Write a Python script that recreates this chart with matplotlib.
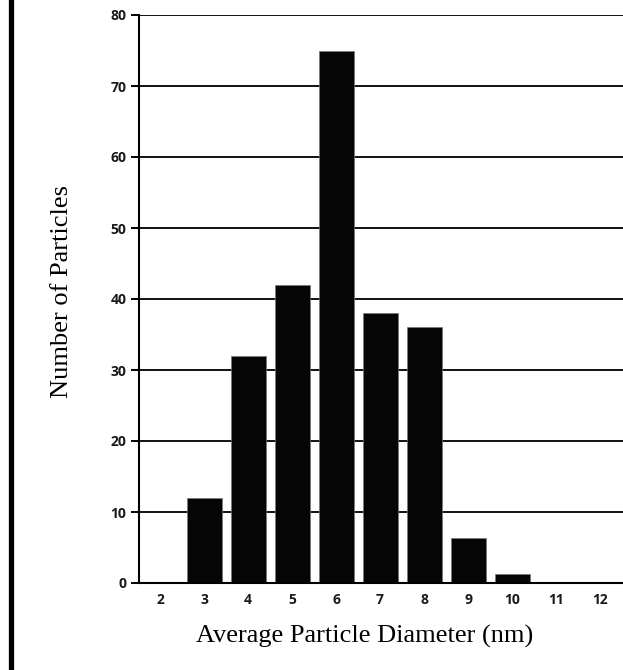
import matplotlib
matplotlib.use("Agg")
import matplotlib.pyplot as plt
from matplotlib.lines import Line2D
from matplotlib.font_manager import FontProperties

# Particle size histogram data
diameters = [2, 3, 4, 5, 6, 7, 8, 9, 10, 11, 12]
counts = [0, 12, 32, 42, 75, 38, 36, 6.4, 1.2, 0, 0]
y_ticks = [0, 10, 20, 30, 40, 50, 60, 70, 80]

W, H = 623, 670
fig = plt.figure(figsize=(W / 100, H / 100), dpi=100)
fig.patch.set_facecolor("white")

# axes box in pixel coordinates of the reference
left, right, bottom, top = 139, 623, 583, 15
ax = fig.add_axes([left / W, (H - bottom) / H, (right - left) / W, (bottom - top) / H])

ax.set_axisbelow(True)
for y in y_ticks[1:]:
    ax.axhline(y, color="#111111", lw=1.4, zorder=0)

ax.bar(diameters, counts, width=0.8, color="#050505", edgecolor="#777777", linewidth=0.5, zorder=2)

ax.set_xlim(1.52, 12.52)
ax.set_ylim(0, 80)
ax.set_xticks(diameters)
ax.set_yticks(y_ticks)

for side in ["top", "right"]:
    ax.spines[side].set_visible(False)
ax.spines["left"].set_linewidth(1.5)
ax.spines["bottom"].set_linewidth(1.5)
ax.spines["bottom"].set_zorder(3)

tick_font = FontProperties(family="Open Sans", weight="bold", size=10)
ax.tick_params(axis="y", direction="out", length=6, width=1.4, pad=3)
ax.tick_params(axis="x", length=0, pad=7)
for lbl in ax.get_xticklabels() + ax.get_yticklabels():
    lbl.set_fontproperties(tick_font)
    lbl.set_color("#1a1a1a")

serif = ["Liberation Serif", "DejaVu Serif"]
fig.text(365 / W, 1 - 636 / H, "Average Particle Diameter (nm)", family=serif, fontsize=19,
         ha="center", va="center")
fig.text(62 / W, 1 - 291 / H, "Number of Particles", family=serif, fontsize=19,
         rotation=90, ha="center", va="center")

# thick black frame line on the left edge
fig.add_artist(Line2D([10.5 / W, 10.5 / W], [0, 1], color="black", lw=3.8, transform=fig.transFigure))

fig.savefig("out.png", dpi=100)
